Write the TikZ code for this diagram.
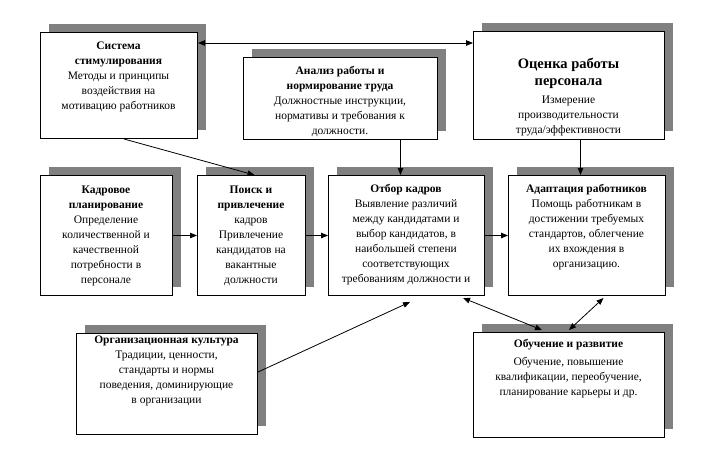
\documentclass[tikz,border=0pt]{standalone}
\usepackage{fontspec}
\setmainfont{Liberation Serif}
\newfontfamily\tnr{Liberation Serif}
\usetikzlibrary{arrows.meta,shadows,calc}
\begin{document}
\begin{tikzpicture}[x=1pt,y=-1pt,
  box/.style={draw=black, line width=1pt, fill=white, inner sep=0pt, anchor=north west,
    general shadow={fill=black!50, shadow xshift=8pt, shadow yshift=9pt}},
  txt/.style={anchor=north, inner sep=0pt, align=center, font=\tnr\fontsize{11.5}{15}\selectfont},
  conn/.style={line width=0.8pt, -{Triangle[length=7pt,width=5.5pt]}},
  dconn/.style={line width=0.8pt, {Triangle[length=7pt,width=5.5pt]}-{Triangle[length=7pt,width=5.5pt]}}]
\useasboundingbox[fill=white] (0,0) rectangle (707,472);

\node[box, minimum width=157pt, minimum height=106pt] (b1) at (40,32) {};
\node[box, minimum width=194pt, minimum height=82pt] (b2) at (243,57) {};
\node[box, minimum width=191pt, minimum height=108pt] (b3) at (473,31) {};
\node[box, minimum width=132pt, minimum height=120pt] (b4) at (40,175) {};
\node[box, minimum width=108pt, minimum height=120pt] (b5) at (197,175) {};
\node[box, minimum width=156pt, minimum height=120pt] (b6) at (328,175) {};
\node[box, minimum width=157pt, minimum height=120pt] (b7) at (508,175) {};
\node[box, minimum width=181pt, minimum height=101pt] (b8) at (76,333) {};
\node[box, minimum width=191pt, minimum height=105pt] (b9) at (473,332) {};

\node[txt] (t1) at (118.5,38.5) {\strut\textbf{Система}\\\textbf{стимулирования}\\Методы и принципы\\воздействия на\\мотивацию работников};
\node[txt] (t2) at (340,63.5) {\strut\textbf{Анализ работы и}\\\textbf{нормирование труда}\\Должностные инструкции,\\нормативы и требования к\\должности.};
\node[txt, font=\tnr\fontsize{14.5}{17}\selectfont\bfseries] (t3a) at (568.5,56) {\strut Оценка работы\\персонала};
\node[txt] (t3b) at (568.5,92.5) {\strut Измерение\\производительности\\труда/эффективности};
\node[txt] (t4) at (106,182.5) {\strut\textbf{Кадровое}\\\textbf{планирование}\\Определение\\количественной и\\качественной\\потребности в\\персонале};
\node[txt] (t5) at (251,182.5) {\strut\textbf{Поиск и}\\\textbf{привлечение}\\кадров\\Привлечение\\кандидатов на\\вакантные\\должности};
\node[txt] (t6) at (406,181.5) {\strut\textbf{Отбор кадров}\\Выявление различий\\между кандидатами и\\выбор кандидатов, в\\наибольшей степени\\соответствующих\\требованиям должности и};
\node[txt] (t7) at (586.5,181.5) {\strut\textbf{Адаптация работников}\\Помощь работникам в\\достижении требуемых\\стандартов, облегчение\\их вхождения в\\организацию.};
\node[txt] (t8) at (166.5,332.5) {\strut\textbf{Организационная культура}\\Традиции, ценности,\\стандарты и нормы\\поведения, доминирующие\\в организации};
\node[txt] (t9) at (568.5,336.5) {\strut\textbf{Обучение и развитие}\\[3pt]Обучение, повышение\\квалификации, переобучение,\\планирование карьеры и др.};

\coordinate (c8) at (410,302);

\draw[dconn] ($(b1.north east)+(0,11)$) -- ($(b3.north west)+(0,12)$);
\draw[conn] ($(b1.south)+(5,0)$) -- ($(b5.north)+(3,0)$);
\draw[conn] ($(b2.south)+(60,0)$) -- ($(b6.north)+(-6,0)$);
\draw[conn] ($(b3.south)+(11.5,0)$) -- ($(b7.north)+(-6.5,0)$);
\draw[conn] (b4.east) -- (b5.west);
\draw[conn] (b5.east) -- (b6.west);
\draw[conn] (b6.east) -- (b7.west);
\draw[conn] ($(b8.north east)+(0,39)$) -- (c8);
\draw[dconn] ($(b6.south east)+(-22,2)$) -- ($(b9.north)+(-27,-2)$);
\draw[dconn] ($(b7.south)+(16.5,2)$) -- ($(b9.north)+(0,-2)$);
\end{tikzpicture}
\end{document}
